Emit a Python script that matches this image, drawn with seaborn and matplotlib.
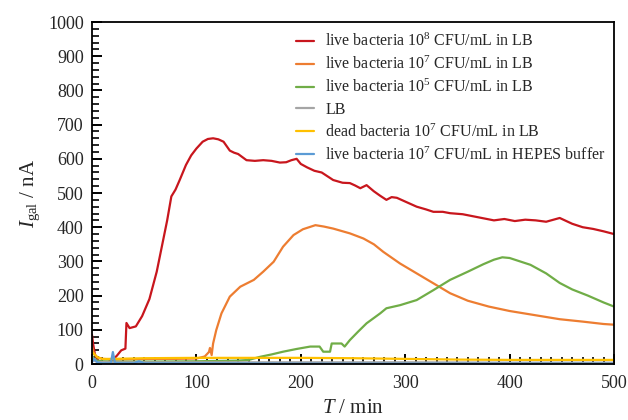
import matplotlib
matplotlib.use("Agg")
import matplotlib.pyplot as plt
import seaborn as sns
import pandas as pd
from matplotlib.ticker import MultipleLocator

# ---- data ----
labels = [
    "live bacteria 10$^{8}$ CFU/mL in LB",
    "live bacteria 10$^{7}$ CFU/mL in LB",
    "live bacteria 10$^{5}$ CFU/mL in LB",
    "LB",
    "dead bacteria 10$^{7}$ CFU/mL in LB",
    "live bacteria 10$^{7}$ CFU/mL in HEPES buffer",
]
colors = ["#C8161D", "#ED7D31", "#70AD47", "#A5A5A5", "#FFC000", "#5B9BD5"]

t_red = [0, 1, 3, 6, 10, 15, 20, 24, 28, 32, 33, 36, 42, 48, 55, 62, 68, 72, 76, 80,
         84, 90, 95, 100, 106, 111, 116, 121, 126, 132, 136, 140, 148, 156, 164, 172,
         180, 186, 191, 196, 200, 206, 213, 220, 231, 240, 247, 252, 257, 263, 270, 276,
         282, 287, 292, 300, 311, 320, 327, 336, 343, 355, 365, 375, 385, 395, 405, 415,
         425, 435, 448, 460, 470, 480, 490, 500]
i_red = [85, 60, 25, 10, 5, 5, 12, 25, 40, 45, 120, 105, 110, 140, 190, 270, 360, 420, 490, 510,
         538, 582, 610, 630, 650, 658, 660, 657, 650, 624, 618, 614, 596, 594, 596, 594,
         589, 590, 596, 600, 585, 575, 565, 560, 538, 530, 529, 522, 514, 523, 505, 492,
         480, 488, 486, 475, 460, 452, 445, 445, 441, 438, 432, 426, 420, 424, 418, 422,
         420, 416, 427, 410, 400, 395, 388, 380]

t_orange = [0, 2, 5, 10, 20, 40, 60, 80, 100, 108, 112, 113, 114.6, 116, 119, 124, 132, 142,
            155, 164, 174, 183, 193, 202, 214, 222, 231, 247, 260, 270, 279, 295, 311, 327,
            343, 360, 380, 400, 420, 448, 470, 490, 500]
i_orange = [50, 30, 20, 15, 13, 14, 15, 15, 16, 22, 35, 47, 26, 60, 99, 148, 197, 226,
            246, 270, 299, 343, 377, 394, 406, 402, 396, 382, 367, 350, 328, 294, 265, 236,
            207, 185, 168, 155, 145, 131, 124, 117, 115]

t_green = [0, 2, 5, 10, 20, 50, 100, 140, 150, 161, 172, 183, 196, 209, 218, 221.5, 228,
           229.6, 239, 242, 247, 255, 263, 276, 282, 295, 311, 327, 343, 360, 375, 385,
           393, 400, 410, 420, 435, 448, 460, 475, 490, 500]
i_green = [25, 15, 10, 8, 7, 7, 8, 10, 12, 21, 28, 36, 44, 51, 51, 36, 36,
           60, 60, 51, 70, 95, 119, 148, 163, 172, 187, 216, 246, 270, 292, 305,
           312, 310, 300, 290, 265, 237, 218, 200, 180, 168]

t_gray = [0, 2, 5, 20, 100, 200, 300, 400, 500]
i_gray = [20, 10, 6, 5, 5, 5, 5, 4, 4]

t_yellow = [0, 2, 5, 10, 20, 50, 100, 150, 200, 250, 300, 350, 400, 450, 500]
i_yellow = [35, 30, 20, 15, 15, 17, 18, 18, 18, 17, 15, 13, 12, 12, 12]

t_blue = [0, 2, 5, 10, 18, 20, 22, 30, 40, 45, 50, 100, 200, 300, 400, 500]
i_blue = [5, 15, 5, 2, 2, 35, 3, 2, 2, 8, 2, 2, 1, 1, 1, 1]

series_t = [t_red, t_orange, t_green, t_gray, t_yellow, t_blue]
series_i = [i_red, i_orange, i_green, i_gray, i_yellow, i_blue]

frames = []
for lab, tt, ii in zip(labels, series_t, series_i):
    frames.append(pd.DataFrame({"T": tt, "I": ii, "series": lab}))
df = pd.concat(frames, ignore_index=True)

# ---- style ----
sns.set_style("ticks")
plt.rcParams["font.family"] = ["Liberation Serif", "DejaVu Serif"]
plt.rcParams["mathtext.fontset"] = "custom"
plt.rcParams["mathtext.rm"] = "Liberation Serif"
plt.rcParams["mathtext.it"] = "Liberation Serif:italic"
plt.rcParams["xtick.direction"] = "in"
plt.rcParams["ytick.direction"] = "in"

fig = plt.figure(figsize=(6.28, 4.2), dpi=100)
ax = fig.add_axes([0.1465, 0.1333, 0.8312, 0.8143])

sns.lineplot(data=df, x="T", y="I", hue="series", hue_order=labels,
             palette=dict(zip(labels, colors)), estimator=None, sort=True,
             linewidth=1.6, ax=ax)

ax.set_xlim(0, 500)
ax.set_ylim(0, 1000)
ax.xaxis.set_major_locator(MultipleLocator(100))
ax.xaxis.set_minor_locator(MultipleLocator(10))
ax.yaxis.set_major_locator(MultipleLocator(100))
ax.yaxis.set_minor_locator(MultipleLocator(20))
ax.yaxis.set_ticks_position("left")
ax.xaxis.set_ticks_position("bottom")
ax.tick_params(axis="both", which="major", direction="in", length=7, width=1.4,
               color="black", labelsize=13)
ax.tick_params(axis="both", which="minor", direction="in", length=5, width=1.2,
               color="black")
ax.tick_params(axis="x", which="major", pad=8)
ax.tick_params(axis="y", which="major", pad=6)
for s in ax.spines.values():
    s.set_visible(True)
    s.set_linewidth(1.3)
    s.set_color("black")
    s.set_zorder(5)

ax.set_xlabel("$T$ / min", fontsize=15, labelpad=5)
ax.set_ylabel("$I_{\\mathrm{gal}}$ / nA", fontsize=15, labelpad=4)

leg = ax.legend(loc="upper right", frameon=False, fontsize=11.5, handlelength=1.15,
                handletextpad=0.7, labelspacing=0.35, borderpad=0.2,
                bbox_to_anchor=(1.006, 1.0))

fig.savefig("out.png", dpi=100)
